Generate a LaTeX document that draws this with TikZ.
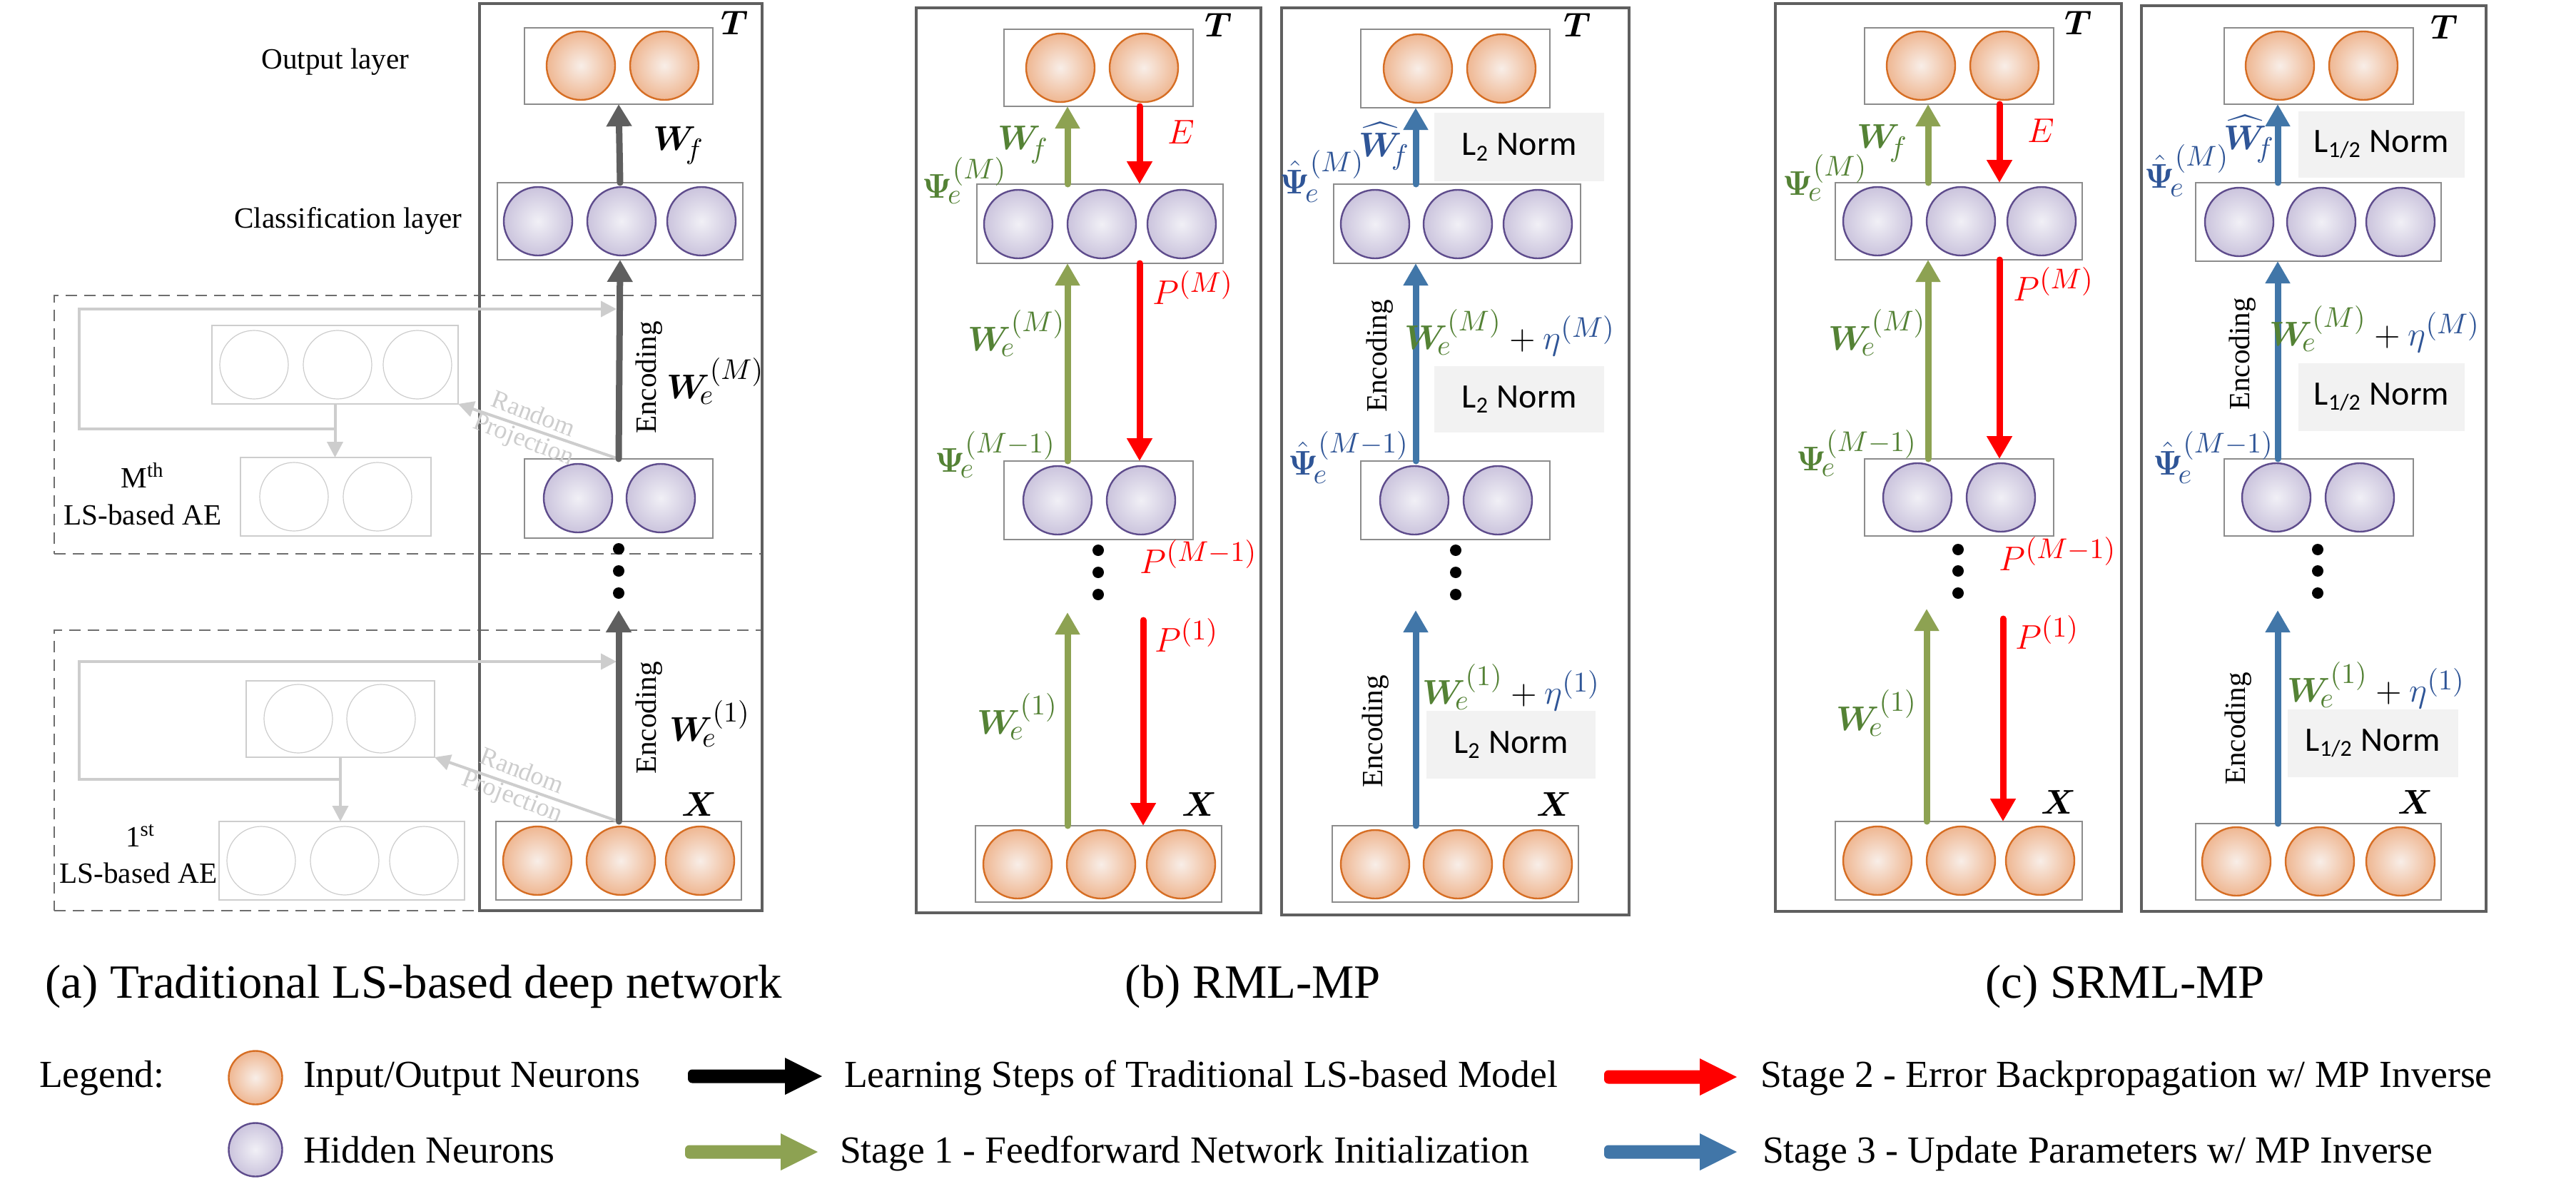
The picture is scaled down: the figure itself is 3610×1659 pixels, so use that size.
\documentclass[tikz,border=0pt]{standalone}
\usepackage{amsmath}
\usepackage{bm}
\usepackage{fontspec}
\setmainfont{Liberation Serif}
\newfontfamily\calibfont{Carlito}
\usetikzlibrary{arrows.meta,calc}
\DeclareMathSizes{13}{13}{10}{7.5}

\definecolor{oedge}{RGB}{214,110,36}
\definecolor{oin}{RGB}{248,238,232}
\definecolor{oout}{RGB}{239,183,146}
\definecolor{pedge}{RGB}{94,76,140}
\definecolor{pin}{RGB}{241,240,246}
\definecolor{pout}{RGB}{203,196,221}
\definecolor{garrow}{RGB}{141,162,82}
\definecolor{gtext}{RGB}{84,130,53}
\definecolor{barrow}{RGB}{65,118,168}
\definecolor{btext}{RGB}{47,85,151}
\definecolor{darrow}{RGB}{95,95,95}
\definecolor{framec}{RGB}{95,95,95}
\definecolor{layerc}{RGB}{140,140,140}
\definecolor{ghostc}{RGB}{205,205,205}
\definecolor{normbg}{RGB}{242,242,242}
\definecolor{dashc}{RGB}{110,110,110}

\tikzset{
  every node/.style={inner sep=0pt, outer sep=0pt},
  frame/.style={draw=framec, line width=1pt},
  layer/.style={draw=layerc, line width=0.45pt, fill=white},
  ghostlayer/.style={draw=ghostc, line width=0.4pt},
  dashbox/.style={draw=dashc, line width=0.6pt, dash pattern=on 4pt off 2.5pt},
  normbox/.style={fill=normbg},
  neuronO/.style={circle, minimum size=24pt, draw=oedge, line width=0.6pt, inner color=oin, outer color=oout},
  neuronP/.style={circle, minimum size=24pt, draw=pedge, line width=0.6pt, inner color=pin, outer color=pout},
  legO/.style={neuronO, minimum size=18.75pt},
  legP/.style={neuronP, minimum size=18.75pt},
  ghostneuron/.style={circle, minimum size=24pt, draw=ghostc, line width=0.3pt},
  arrD/.style={draw=darrow, line width=2.25pt, line cap=round, -{Triangle[width=8.5pt,length=7.75pt]}},
  arrG/.style={draw=garrow, line width=2.25pt, line cap=round, -{Triangle[width=8.25pt,length=7.75pt]}},
  arrR/.style={draw=red, line width=2.25pt, line cap=round, -{Triangle[width=8.5pt,length=8pt]}},
  arrB/.style={draw=barrow, line width=2.25pt, line cap=round, -{Triangle[width=8.25pt,length=7.75pt]}},
  ghostarr/.style={draw=ghostc, line width=1pt, -{Triangle[width=5.5pt,length=5.5pt]}},
  dotnode/.style={circle, fill=black, minimum size=4pt},
  mlbl/.style={font=\fontsize{13}{15}\selectfont},
  tx/.style={font=\fontsize{12.5}{14}\selectfont},
  sidelbl/.style={font=\fontsize{10.3}{12}\selectfont},
  enc/.style={font=\fontsize{10.3}{12}\selectfont, rotate=90},
  rp/.style={font=\fontsize{9}{9.4}\selectfont, text=ghostc, align=center, rotate=-21},
  normtxt/.style={font=\calibfont\fontsize{12}{14}\selectfont},
  caption/.style={font=\fontsize{16.7}{20}\selectfont, anchor=base},
  legtxt/.style={font=\fontsize{13.4}{16}\selectfont, anchor=base west},
}

\newcommand\rectnode[6]{\node[#2, minimum width={(#5-#3)*0.25pt}, minimum height={(#6-#4)*0.25pt}] (#1) at ({(#3+#5)/2},{(#4+#6)/2}) {};}
\newcommand\neu[4]{\node[#2] (#1) at (#3,#4) {};}
\newcommand\legarrow[4]{%
  \fill[#1] (#3,#4) -- (#3-52,#4-26) -- (#3-52,#4-9.5) [rounded corners=1.5pt] -- (#2,#4-9.5) -- (#2,#4+9.5) [sharp corners] -- (#3-52,#4+9.5) -- (#3-52,#4+26) -- cycle;}

\begin{document}
\begin{tikzpicture}[x=0.25pt,y=-0.25pt]
\fill[white] (0,0) rectangle (3610,1659);
\useasboundingbox (0,0) rectangle (3610,1659);

%================ Panel (a) ================
\rectnode{a-dM}{dashbox}{76}{414}{1068}{776}
\rectnode{a-d1}{dashbox}{76}{883}{1068}{1276}
\rectnode{a-frame}{frame}{672}{5}{1068}{1276}

% ghost AE (M-th)
\rectnode{gM-hid}{ghostlayer}{297}{456}{642}{566}
\neu{gM-h1}{ghostneuron}{356}{511}
\neu{gM-h2}{ghostneuron}{473}{511}
\neu{gM-h3}{ghostneuron}{585}{511}
\rectnode{gM-out}{ghostlayer}{337}{641}{604}{751}
\neu{gM-o1}{ghostneuron}{412}{696}
\neu{gM-o2}{ghostneuron}{529}{696}
% ghost AE (1st)
\rectnode{g1-hid}{ghostlayer}{345}{954}{609}{1061}
\neu{g1-h1}{ghostneuron}{418}{1007}
\neu{g1-h2}{ghostneuron}{534}{1007}
\rectnode{g1-in}{ghostlayer}{307}{1151}{651}{1261}
\neu{g1-i1}{ghostneuron}{366}{1206}
\neu{g1-i2}{ghostneuron}{483}{1206}
\neu{g1-i3}{ghostneuron}{594}{1206}

% main layers (a)
\rectnode{a-out}{layer}{735}{39}{999}{146}
\neu{a-o1}{neuronO}{814}{92}
\neu{a-o2}{neuronO}{931}{92}
\rectnode{a-cls}{layer}{697}{256}{1041}{364}
\neu{a-c1}{neuronP}{754}{310}
\neu{a-c2}{neuronP}{871}{310}
\neu{a-c3}{neuronP}{983}{310}
\rectnode{a-hid}{layer}{735}{643}{999}{754}
\neu{a-h1}{neuronP}{810}{698}
\neu{a-h2}{neuronP}{926}{698}
\rectnode{a-in}{layer}{695}{1151}{1039}{1261}
\neu{a-i1}{neuronO}{753}{1206}
\neu{a-i2}{neuronO}{870}{1206}
\neu{a-i3}{neuronO}{981}{1206}

% ghost connectors
\coordinate (gM-j) at (469.5,601);
\coordinate (gM-l) at (111,601);
\coordinate (gM-e) at (864,433);
\draw[ghostarr] (gM-hid.south) -- (gM-hid.south |- gM-out.north);
\draw[ghostarr] (gM-j) -- (gM-l) |- (gM-e);
\draw[ghostarr] (a-hid.north) -- (gM-hid.south east);
\coordinate (g1-j) at (477,1092);
\coordinate (g1-l) at (111,1092);
\coordinate (g1-e) at (864,927);
\draw[ghostarr] (g1-hid.south) -- (g1-hid.south |- g1-in.north);
\draw[ghostarr] (g1-j) -- (g1-l) |- (g1-e);
\draw[ghostarr] (a-in.north) -- (g1-hid.south east);
\node[rp] (rp-M) at (740,600) {Random\\Projection};
\node[rp] (rp-1) at (724,1100) {Random\\Projection};

% dark arrows (a)
\coordinate (a-top1) at (867,855);
\draw[arrD] (a-cls.north) -- (a-out.south);
\draw[arrD] (a-hid.north) -- (a-cls.south);
\draw[arrD] (a-in.north) -- (a-top1);
\node[dotnode] (a-dot1) at (867,769) {};
\node[dotnode] (a-dot2) at (867,800) {};
\node[dotnode] (a-dot3) at (867,831) {};

% labels (a)
\node[tx] (a-T) at (1030,32) {$\boldsymbol{T}$};
\node[tx] (a-X) at (980,1127) {$\boldsymbol{X}$};
\node[mlbl] (a-Wf) at (951,204) {$\boldsymbol{W}_{\!f}$};
\node[mlbl] (a-WeM) at (1003,534) {$\boldsymbol{W}_{\!e}^{(M)}$};
\node[mlbl] (a-We1) at (995,1014) {$\boldsymbol{W}_{\!e}^{(1)}$};
\node[enc] (a-enc1) at (910,529) {Encoding};
\node[enc] (a-enc2) at (910,1006) {Encoding};
\node[sidelbl, anchor=base] (a-outl) at (470,96) {Output layer};
\node[sidelbl, anchor=base] (a-clsl) at (488,319) {Classification layer};
\node[sidelbl, anchor=base] (a-Mth) at (200,683) {M\textsuperscript{th}};
\node[sidelbl, anchor=base] (a-LSM) at (200,735) {LS-based AE};
\node[sidelbl, anchor=base] (a-1st) at (197,1186) {1\textsuperscript{st}};
\node[sidelbl, anchor=base] (a-LS1) at (194,1237) {LS-based AE};

%================ Panel (b) left ================
\rectnode{b1-frame}{frame}{1284}{11}{1767}{1279}
\rectnode{b1-out}{layer}{1407}{41}{1672}{149}
\neu{b1-o1}{neuronO}{1486}{95}
\neu{b1-o2}{neuronO}{1603}{95}
\rectnode{b1-cls}{layer}{1369}{258}{1714}{369}
\neu{b1-c1}{neuronP}{1427}{314}
\neu{b1-c2}{neuronP}{1544}{314}
\neu{b1-c3}{neuronP}{1656}{314}
\rectnode{b1-hid}{layer}{1407}{646}{1672}{756}
\neu{b1-h1}{neuronP}{1482}{701}
\neu{b1-h2}{neuronP}{1599}{701}
\rectnode{b1-in}{layer}{1367}{1157}{1712}{1264}
\neu{b1-i1}{neuronO}{1426}{1211}
\neu{b1-i2}{neuronO}{1543}{1211}
\neu{b1-i3}{neuronO}{1655}{1211}
\coordinate (b1-g) at (1496,0);
\coordinate (b1-r) at (1597,0);
\coordinate (b1-r1) at (1602,0);
\coordinate (b1-gtop) at (1496,858);
\coordinate (b1-rtop) at (1602,869);
\draw[arrG] (b1-cls.north -| b1-g) -- (b1-out.south -| b1-g);
\draw[arrR] (b1-out.south -| b1-r) -- (b1-cls.north -| b1-r);
\draw[arrG] (b1-hid.north -| b1-g) -- (b1-cls.south -| b1-g);
\draw[arrR] (b1-cls.south -| b1-r) -- (b1-hid.north -| b1-r);
\draw[arrG] (b1-in.north -| b1-g) -- (b1-gtop);
\draw[arrR] (b1-rtop) -- (b1-in.north -| b1-r1);
\node[dotnode] (b1-dot1) at (1539,771) {};
\node[dotnode] (b1-dot2) at (1539,802) {};
\node[dotnode] (b1-dot3) at (1539,833) {};
\node[tx] (b1-T) at (1708,35) {$\boldsymbol{T}$};
\node[tx] (b1-X) at (1681,1127) {$\boldsymbol{X}$};
\node[mlbl, text=gtext] (b1-Wf) at (1434,203) {$\boldsymbol{W}_{\!f}$};
\node[mlbl, text=red] (b1-E) at (1655,185) {$E$};
\node[mlbl, text=gtext] (b1-PsiM) at (1352,253) {$\boldsymbol{\Psi}_{\!e}^{(M)}$};
\node[mlbl, text=gtext] (b1-WeM) at (1425,467) {$\boldsymbol{W}_{\!e}^{(M)}$};
\node[mlbl, text=red] (b1-PM) at (1672,403) {$P^{(M)}$};
\node[mlbl, text=gtext] (b1-PsiM1) at (1395,637) {$\boldsymbol{\Psi}_{\!e}^{(M-1)}$};
\node[mlbl, text=red] (b1-PM1) at (1680,780) {$P^{(M-1)}$};
\node[mlbl, text=red] (b1-P1) at (1663,890) {$P^{(1)}$};
\node[mlbl, text=gtext] (b1-We1) at (1426,1004) {$\boldsymbol{W}_{\!e}^{(1)}$};

%================ Panel (b) right ================
\rectnode{b2-frame}{frame}{1796}{11}{2283}{1282}
\rectnode{b2-n1}{normbox}{2010}{158}{2248}{254}
\rectnode{b2-n2}{normbox}{2010}{513}{2248}{606}
\rectnode{b2-n3}{normbox}{1999}{996}{2236}{1091}
\node[normtxt] (b2-n1t) at (b2-n1) {L\textsubscript{2} Norm};
\node[normtxt] (b2-n2t) at (b2-n2) {L\textsubscript{2} Norm};
\node[normtxt] (b2-n3t) at (b2-n3) {L\textsubscript{2} Norm};
\rectnode{b2-out}{layer}{1907}{41}{2172}{151}
\neu{b2-o1}{neuronO}{1987}{96}
\neu{b2-o2}{neuronO}{2104}{96}
\rectnode{b2-cls}{layer}{1869}{258}{2215}{369}
\neu{b2-c1}{neuronP}{1927}{314}
\neu{b2-c2}{neuronP}{2043}{314}
\neu{b2-c3}{neuronP}{2155}{314}
\rectnode{b2-hid}{layer}{1907}{646}{2172}{756}
\neu{b2-h1}{neuronP}{1982}{701}
\neu{b2-h2}{neuronP}{2099}{701}
\rectnode{b2-in}{layer}{1867}{1157}{2212}{1264}
\neu{b2-i1}{neuronO}{1927}{1211}
\neu{b2-i2}{neuronO}{2043}{1211}
\neu{b2-i3}{neuronO}{2155}{1211}
\coordinate (b2-b) at (1984,0);
\coordinate (b2-btop) at (1984,855);
\draw[arrB] (b2-cls.north -| b2-b) -- (b2-out.south -| b2-b);
\draw[arrB] (b2-hid.north -| b2-b) -- (b2-cls.south -| b2-b);
\draw[arrB] (b2-in.north -| b2-b) -- (b2-btop);
\node[dotnode] (b2-dot1) at (2040,771) {};
\node[dotnode] (b2-dot2) at (2040,802) {};
\node[dotnode] (b2-dot3) at (2040,833) {};
\node[tx] (b2-T) at (2211,35) {$\boldsymbol{T}$};
\node[tx] (b2-X) at (2178,1127) {$\boldsymbol{X}$};
\node[mlbl, text=btext] (b2-Wf) at (1940,205) {$\widehat{\boldsymbol{W}}_{\!f}$};
\node[mlbl, text=btext] (b2-PsiM) at (1853,247) {$\hat{\boldsymbol{\Psi}}_{\!e}^{(M)}$};
\node[mlbl] (b2-WeM) at (2116,466) {$\color{gtext}\boldsymbol{W}_{\!e}^{(M)}\color{black}+\color{btext}\eta^{(M)}$};
\node[mlbl, text=btext] (b2-PsiM1) at (1890,641) {$\hat{\boldsymbol{\Psi}}_{\!e}^{(M-1)}$};
\node[mlbl] (b2-We1) at (2118,963) {$\color{gtext}\boldsymbol{W}_{\!e}^{(1)}\color{black}+\color{btext}\eta^{(1)}$};
\node[enc] (b2-enc1) at (1934,499) {Encoding};
\node[enc] (b2-enc2) at (1928,1025) {Encoding};

%================ Panel (c) left ================
\rectnode{c1-frame}{frame}{2488}{5}{2973}{1277}
\rectnode{c1-out}{layer}{2613}{39}{2878}{146}
\neu{c1-o1}{neuronO}{2692}{92}
\neu{c1-o2}{neuronO}{2809}{92}
\rectnode{c1-cls}{layer}{2572}{256}{2918}{364}
\neu{c1-c1}{neuronP}{2631}{310}
\neu{c1-c2}{neuronP}{2748}{310}
\neu{c1-c3}{neuronP}{2861}{310}
\rectnode{c1-hid}{layer}{2613}{643}{2878}{751}
\neu{c1-h1}{neuronP}{2687}{697}
\neu{c1-h2}{neuronP}{2804}{697}
\rectnode{c1-in}{layer}{2572}{1151}{2918}{1261}
\neu{c1-i1}{neuronO}{2631}{1206}
\neu{c1-i2}{neuronO}{2748}{1206}
\neu{c1-i3}{neuronO}{2859}{1206}
\coordinate (c1-g) at (2702,0);
\coordinate (c1-r) at (2802,0);
\coordinate (c1-g1) at (2700,0);
\coordinate (c1-r1) at (2807,0);
\coordinate (c1-gtop) at (2700,853);
\coordinate (c1-rtop) at (2807,867);
\draw[arrG] (c1-cls.north -| c1-g) -- (c1-out.south -| c1-g);
\draw[arrR] (c1-out.south -| c1-r) -- (c1-cls.north -| c1-r);
\draw[arrG] (c1-hid.north -| c1-g) -- (c1-cls.south -| c1-g);
\draw[arrR] (c1-cls.south -| c1-r) -- (c1-hid.north -| c1-r);
\draw[arrG] (c1-in.north -| c1-g1) -- (c1-gtop);
\draw[arrR] (c1-rtop) -- (c1-in.north -| c1-r1);
\node[dotnode] (c1-dot1) at (2744,770) {};
\node[dotnode] (c1-dot2) at (2744,800) {};
\node[dotnode] (c1-dot3) at (2744,831) {};
\node[tx] (c1-T) at (2913,32) {$\boldsymbol{T}$};
\node[tx] (c1-X) at (2885,1124) {$\boldsymbol{X}$};
\node[mlbl, text=gtext] (c1-Wf) at (2638,201) {$\boldsymbol{W}_{\!f}$};
\node[mlbl, text=red] (c1-E) at (2860,183) {$E$};
\node[mlbl, text=gtext] (c1-PsiM) at (2558,249) {$\boldsymbol{\Psi}_{\!e}^{(M)}$};
\node[mlbl, text=gtext] (c1-WeM) at (2631,466) {$\boldsymbol{W}_{\!e}^{(M)}$};
\node[mlbl, text=red] (c1-PM) at (2878,398) {$P^{(M)}$};
\node[mlbl, text=gtext] (c1-PsiM1) at (2602,635) {$\boldsymbol{\Psi}_{\!e}^{(M-1)}$};
\node[mlbl, text=red] (c1-PM1) at (2884,776) {$P^{(M-1)}$};
\node[mlbl, text=red] (c1-P1) at (2869,886) {$P^{(1)}$};
\node[mlbl, text=gtext] (c1-We1) at (2630,999) {$\boldsymbol{W}_{\!e}^{(1)}$};

%================ Panel (c) right ================
\rectnode{c2-frame}{frame}{3001}{8}{3484}{1277}
\rectnode{c2-n1}{normbox}{3221}{156}{3454}{249}
\rectnode{c2-n2}{normbox}{3221}{509}{3454}{604}
\rectnode{c2-n3}{normbox}{3206}{994}{3445}{1089}
\node[normtxt] (c2-n1t) at (c2-n1) {L\textsubscript{1/2} Norm};
\node[normtxt] (c2-n2t) at (c2-n2) {L\textsubscript{1/2} Norm};
\node[normtxt] (c2-n3t) at (c2-n3) {L\textsubscript{1/2} Norm};
\rectnode{c2-out}{layer}{3117}{39}{3382}{146}
\neu{c2-o1}{neuronO}{3195}{92}
\neu{c2-o2}{neuronO}{3312}{92}
\rectnode{c2-cls}{layer}{3077}{256}{3421}{366}
\neu{c2-c1}{neuronP}{3138}{311}
\neu{c2-c2}{neuronP}{3253}{311}
\neu{c2-c3}{neuronP}{3364}{311}
\rectnode{c2-hid}{layer}{3117}{643}{3382}{751}
\neu{c2-h1}{neuronP}{3190}{697}
\neu{c2-h2}{neuronP}{3307}{697}
\rectnode{c2-in}{layer}{3077}{1154}{3421}{1261}
\neu{c2-i1}{neuronO}{3134}{1207}
\neu{c2-i2}{neuronO}{3251}{1207}
\neu{c2-i3}{neuronO}{3364}{1207}
\coordinate (c2-b) at (3192,0);
\coordinate (c2-btop) at (3192,855);
\draw[arrB] (c2-cls.north -| c2-b) -- (c2-out.south -| c2-b);
\draw[arrB] (c2-hid.north -| c2-b) -- (c2-cls.south -| c2-b);
\draw[arrB] (c2-in.north -| c2-b) -- (c2-btop);
\node[dotnode] (c2-dot1) at (3248,770) {};
\node[dotnode] (c2-dot2) at (3248,800) {};
\node[dotnode] (c2-dot3) at (3248,831) {};
\node[tx] (c2-T) at (3426,38) {$\boldsymbol{T}$};
\node[tx] (c2-X) at (3385,1124) {$\boldsymbol{X}$};
\node[mlbl, text=btext] (c2-Wf) at (3152,195) {$\widehat{\boldsymbol{W}}_{\!f}$};
\node[mlbl, text=btext] (c2-PsiM) at (3065,239) {$\hat{\boldsymbol{\Psi}}_{\!e}^{(M)}$};
\node[mlbl] (c2-WeM) at (3328,461) {$\color{gtext}\boldsymbol{W}_{\!e}^{(M)}\color{black}+\color{btext}\eta^{(M)}$};
\node[mlbl, text=btext] (c2-PsiM1) at (3102,641) {$\hat{\boldsymbol{\Psi}}_{\!e}^{(M-1)}$};
\node[mlbl] (c2-We1) at (3330,960) {$\color{gtext}\boldsymbol{W}_{\!e}^{(1)}\color{black}+\color{btext}\eta^{(1)}$};
\node[enc] (c2-enc1) at (3143,496) {Encoding};
\node[enc] (c2-enc2) at (3137,1021) {Encoding};

%================ Captions ================
\node[caption] (cap-a) at (580,1398) {(a) Traditional LS-based deep network};
\node[caption] (cap-b) at (1756,1398) {(b) RML-MP};
\node[caption] (cap-c) at (2978,1398) {(c) SRML-MP};

%================ Legend ================
\node[legtxt] (leg) at (55,1523) {Legend:};
\neu{leg-o}{legO}{358}{1510}
\node[legtxt] (leg-ot) at (425,1523) {Input/Output Neurons};
\neu{leg-p}{legP}{358}{1611}
\node[legtxt] (leg-pt) at (425,1629) {Hidden Neurons};
\legarrow{black}{964}{1152}{1508}
\node[legtxt] (leg-kt) at (1183,1523) {Learning Steps of Traditional LS-based Model};
\legarrow{garrow}{960}{1146}{1614}
\node[legtxt] (leg-gt) at (1177,1629) {Stage 1 - Feedforward Network Initialization};
\legarrow{red}{2248}{2434}{1509}
\node[legtxt] (leg-rt) at (2467,1523) {Stage 2 - Error Backpropagation w/ MP Inverse};
\legarrow{barrow}{2248}{2434}{1614}
\node[legtxt] (leg-bt) at (2470,1629) {Stage 3 - Update Parameters w/ MP Inverse};
\end{tikzpicture}
\end{document}
